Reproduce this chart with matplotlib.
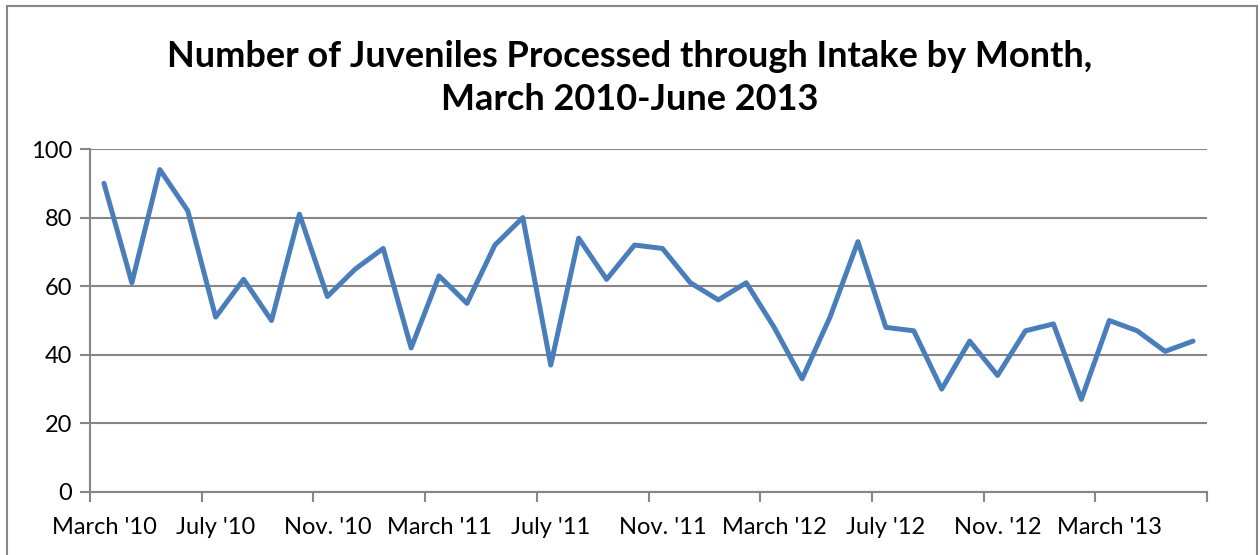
import numpy as np
import matplotlib.pyplot as plt
from matplotlib.patches import Rectangle

plt.rcParams['font.family'] = ['Lato', 'DejaVu Sans']

# monthly intake counts, March 2010 through June 2013
counts = [90, 61, 94, 82, 51, 62, 50, 81, 57, 65,
          71, 42, 63, 55, 72, 80, 37, 74, 62, 72,
          71, 61, 56, 61, 48, 33, 51, 73, 48, 47,
          30, 44, 34, 47, 49, 27, 50, 47, 41, 44]
month_labels = ["March '10", "July '10", "Nov. '10", "March '11", "July '11",
                "Nov. '11", "March '12", "July '12", "Nov. '12", "March '13"]
yticks = [0, 20, 40, 60, 80, 100]

grid_col = '#868686'
line_col = '#4A7EBB'

fig = plt.figure(figsize=(12.6, 5.55), dpi=100)
ax = fig.add_axes([90 / 1260, 1 - 492 / 555, (1207 - 90) / 1260, (492 - 149) / 555])

x = np.arange(len(counts))
ax.plot(x, counts, color=line_col, lw=3.6, solid_joinstyle='round',
        solid_capstyle='round', zorder=3)

ax.set_xlim(-0.5, len(counts) - 0.5)
ax.set_ylim(0, 100)
ax.set_yticks(yticks)
ax.yaxis.grid(True, color=grid_col, lw=1.5)
ax.set_axisbelow(True)

# tick marks on category boundaries, labels on every 4th month
ax.set_xticks(np.arange(-0.5, len(counts), 4))
ax.set_xticklabels([])
ax.set_xticks(x[::4], month_labels, minor=True)
ax.tick_params(axis='x', which='major', length=7, width=1.5, color=grid_col)
ax.tick_params(axis='x', which='minor', length=0, pad=18, labelsize=17)
ax.tick_params(axis='y', length=7, width=1.5, color=grid_col, labelsize=17, pad=6)

for side in ['top', 'right']:
    ax.spines[side].set_visible(False)
for side in ['left', 'bottom']:
    ax.spines[side].set_color(grid_col)
    ax.spines[side].set_linewidth(1.5)

fig.text(0.5, 1 - 78 / 555, 'Number of Juveniles Processed through Intake by Month,\nMarch 2010-June 2013',
         ha='center', va='center', fontsize=26, fontweight='bold', linespacing=1.35)

fig.patches.append(Rectangle((7 / 1260, -0.01), 1250 / 1260, 1.0, transform=fig.transFigure,
                             fill=False, edgecolor=grid_col, lw=1.5))

fig.savefig('out.png', dpi=100)
